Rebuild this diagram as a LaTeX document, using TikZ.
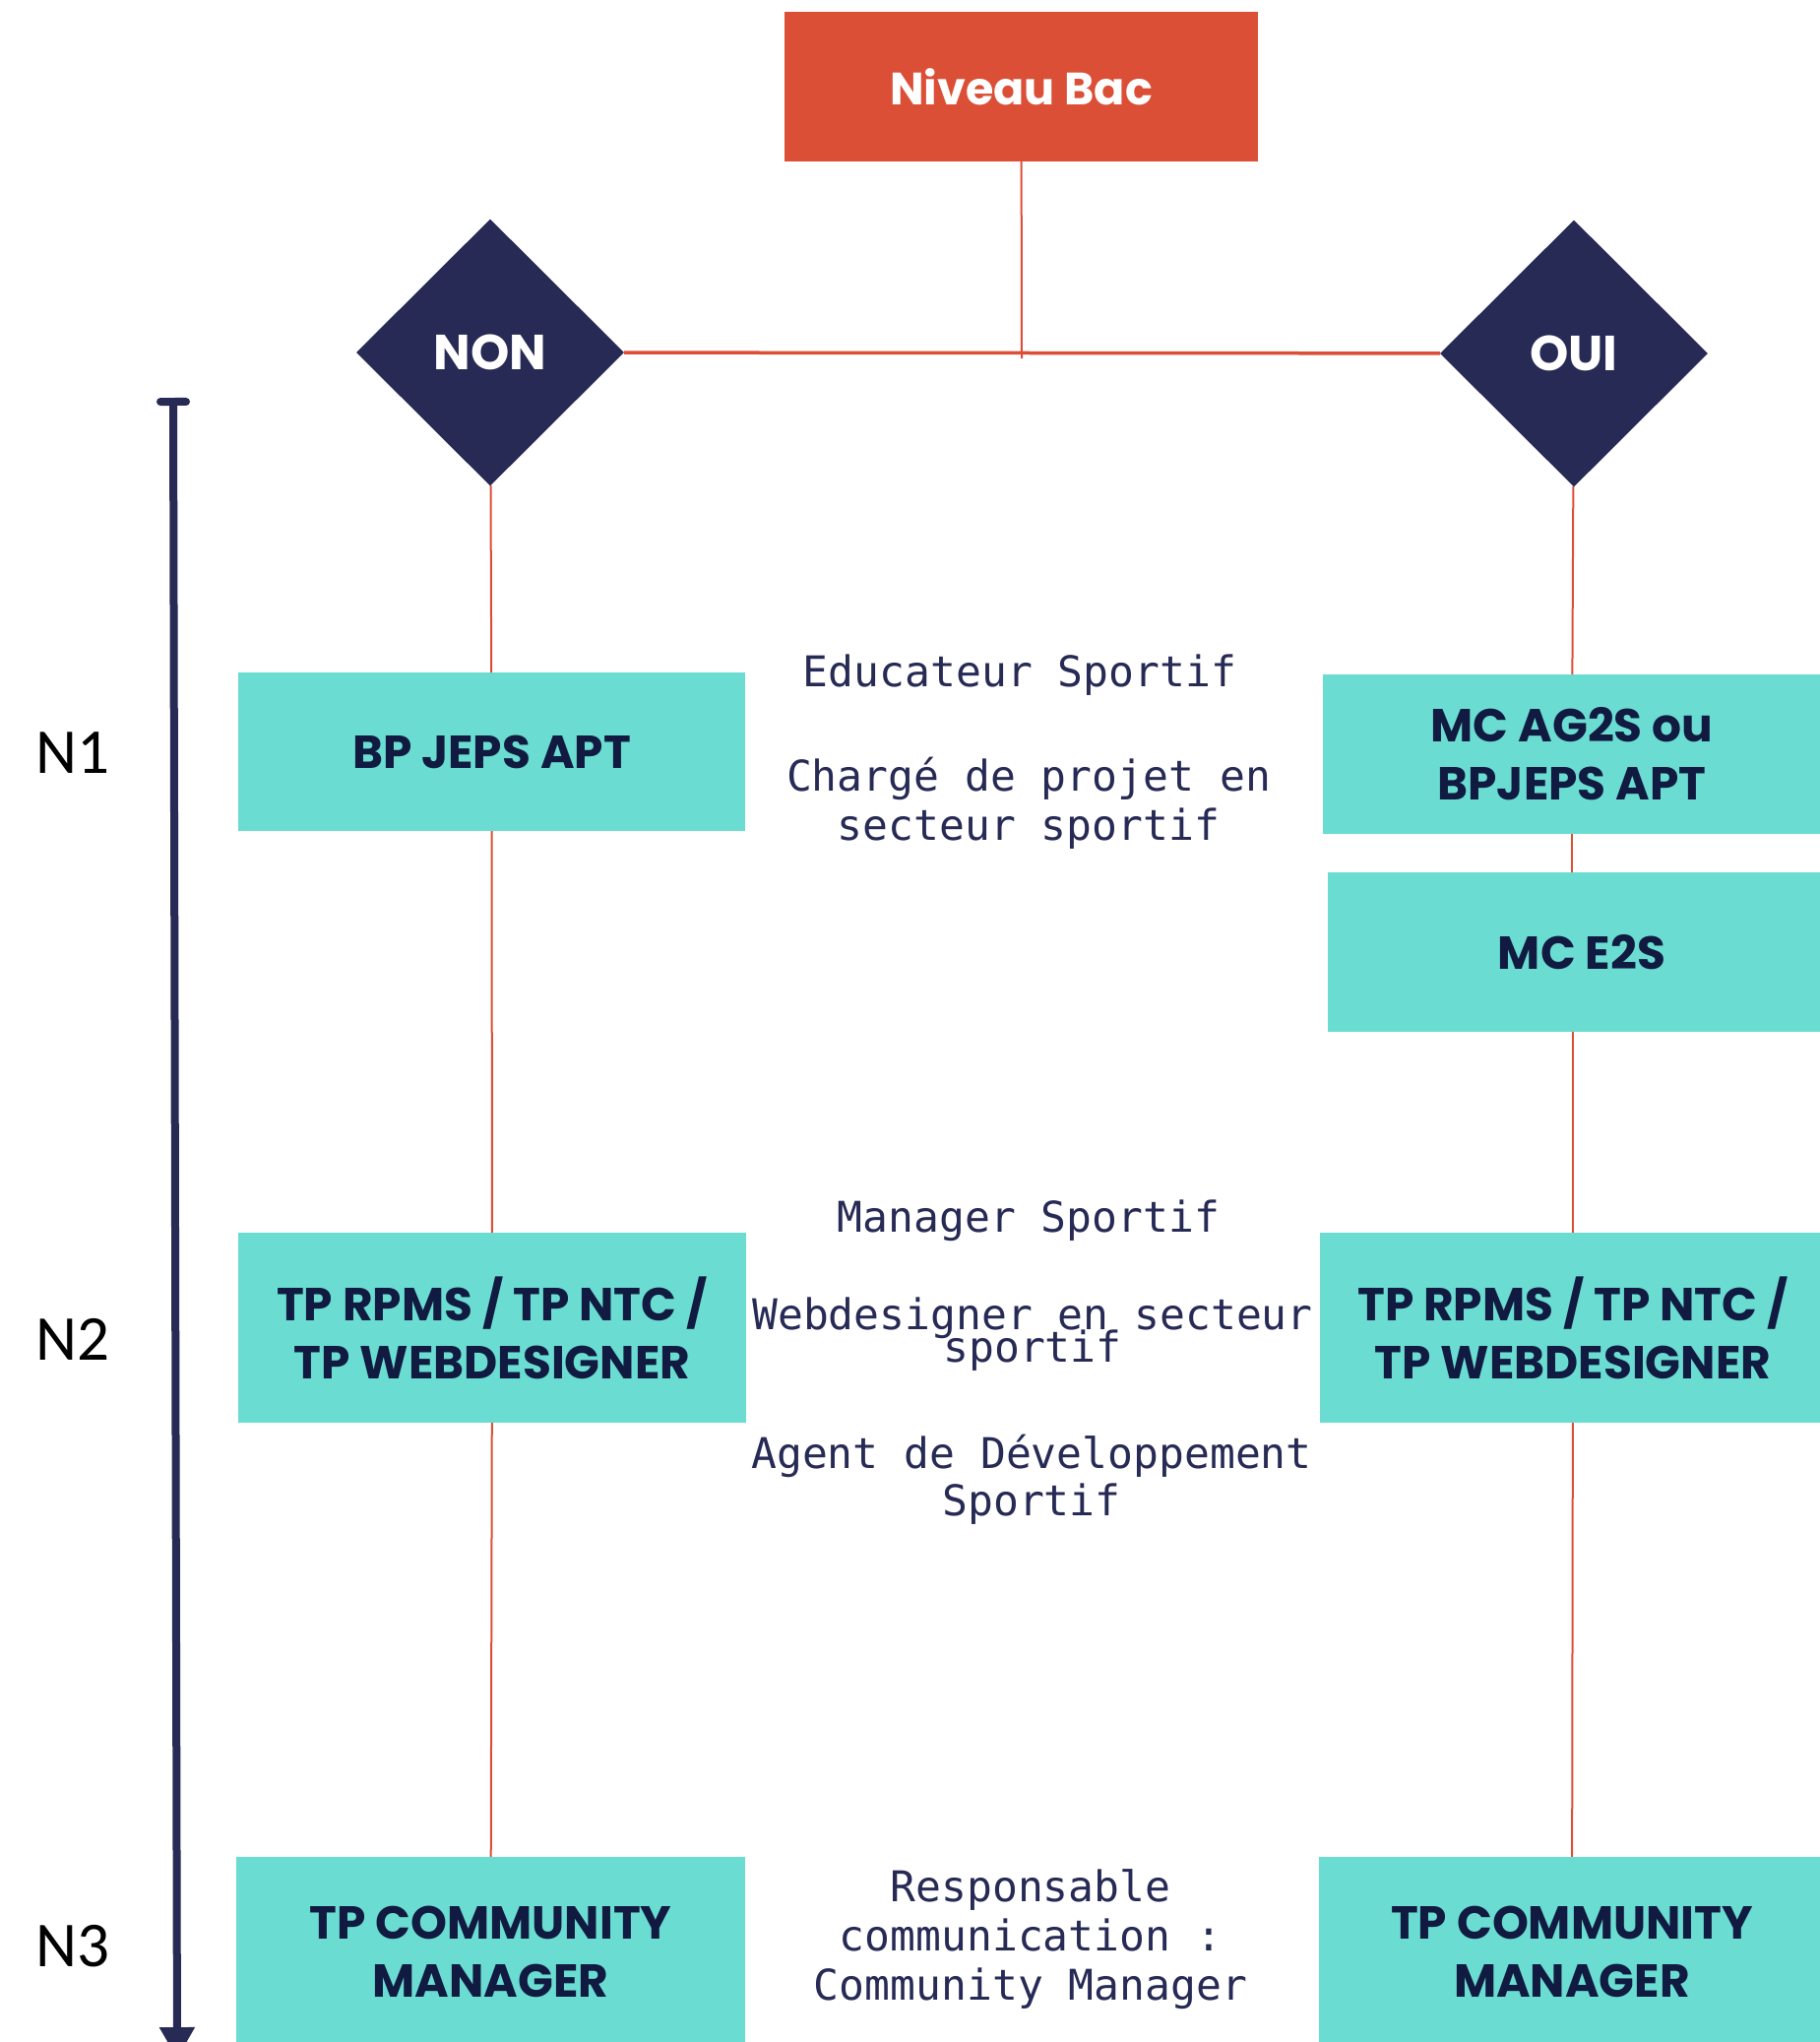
\documentclass[tikz,border=0pt]{standalone}
\usepackage{fontspec}
\setmainfont{Poppins}
\setmonofont{DejaVu Sans Mono}
\newfontfamily\levelfont{Carlito}
\usetikzlibrary{shapes.geometric, arrows.meta}

\definecolor{bacred}{HTML}{DC4F37}
\definecolor{boxteal}{HTML}{6ADCD1}
\definecolor{navy}{HTML}{262A55}
\definecolor{darknavy}{HTML}{111A40}

% mono text with a fixed line step
\newcommand\jobfont[1]{\ttfamily\fontsize{43}{#1}\selectfont\lineskiplimit=-100pt\relax}

\begin{document}
\begin{tikzpicture}[x = 1pt, y = -1pt,
	diploma/.style = {rectangle, fill = boxteal, text = darknavy, align = center, inner sep = 0pt,
		font = \bfseries\fontsize{47}{59}\selectfont},
	choice/.style = {diamond, fill = navy, text = white, inner sep = 0pt,
		minimum width = 272pt, minimum height = 271pt, font = \bfseries\fontsize{50}{60}\selectfont},
	job/.style = {text = navy, align = center, anchor = base, inner sep = 0pt, font = {\jobfont{#1}}},
	job/.default = 50,
	tag/.style = {anchor = base, inner sep = 0pt, font = \levelfont\fontsize{65}{78}\selectfont},
	link/.style = {draw = bacred, line width = 2pt}]

	\useasboundingbox (0, 0) rectangle (1848, 2074);

	% start and yes / no
	\node (bac) at (1037.5, 88)	[rectangle, fill = bacred, text = white, minimum width = 481pt, minimum height = 152pt,
		font = \bfseries\fontsize{46}{55}\selectfont]	{Niveau Bac};
	\node (non) at ( 498, 358)	[choice]	{NON};
	\node (oui) at (1599, 359)	[choice]	{OUI};

	% diplomas
	\node (bpL)   at ( 499.5,  763.5)	[diploma, minimum width = 515pt, minimum height = 161pt]	{BP JEPS APT};
	\node (mcA)   at (1597,    766)	[diploma, minimum width = 506pt, minimum height = 162pt]	{MC AG2S ou\\ BPJEPS APT};
	\node (mcE)   at (1607,    967)	[diploma, minimum width = 516pt, minimum height = 162pt]	{MC E2S};
	\node (rpmsL) at ( 500,   1348.5)	[diploma, minimum width = 516pt, minimum height = 193pt]	{TP RPMS / TP NTC /\\TP WEBDESIGNER};
	\node (rpmsR) at (1598,   1348.5)	[diploma, minimum width = 514pt, minimum height = 193pt]	{TP RPMS / TP NTC /\\TP WEBDESIGNER};
	\node (cmL)   at ( 498.5, 1982)	[diploma, minimum width = 517pt, minimum height = 192pt]	{TP COMMUNITY\\MANAGER};
	\node (cmR)   at (1597,   1982)	[diploma, minimum width = 514pt, minimum height = 192pt]	{TP COMMUNITY\\MANAGER};

	% jobs (base = last line)
	\node (educ)    at (1036,  697)	[job]	{Educateur Sportif};
	\node (projet)  at (1045,  853)	[job]	{Chargé de projet en\\secteur sportif};
	\node (manager) at (1045, 1251)	[job]	{Manager Sportif};
	\node (webdes)  at (1049, 1383)	[job = 33]	{Webdesigner en secteur\\sportif};
	\node (agent)   at (1048, 1539)	[job = 48]	{Agent de Développement\\Sportif};
	\node (respo)   at (1047, 2031)	[job]	{Responsable\\communication :\\Community Manager};

	% levels
	\node (n1) at (73.5,  785)	[tag]	{N1};
	\node (n2) at (73.5, 1381)	[tag]	{N2};
	\node (n3) at (73.5, 1997)	[tag]	{N3};

	\coordinate (top) at (176,  404);
	\coordinate (bot) at (180, 2091);
	\draw [navy, line width = 8pt, {Bar[width = 26pt, round]}-{Triangle[width = 34pt, length = 32pt]}] (top) -- (bot);

	% links
	\coordinate (jn) at (1038, 364);
	\draw [link] (bac) -- (jn);
	\draw [link, line width = 3.5pt] (non) -- (oui);
	\draw [link] (non) -- (bpL);
	\draw [link] (bpL) -- (rpmsL);
	\draw [link] (rpmsL) -- (cmL);
	\draw [link] (oui) -- (mcA);
	\draw [link] (mcA) -- (mcA |- mcE.north);
	\draw [link] (mcE.south -| rpmsR) -- (rpmsR);
	\draw [link] (rpmsR) -- (cmR);
\end{tikzpicture}
\end{document}
